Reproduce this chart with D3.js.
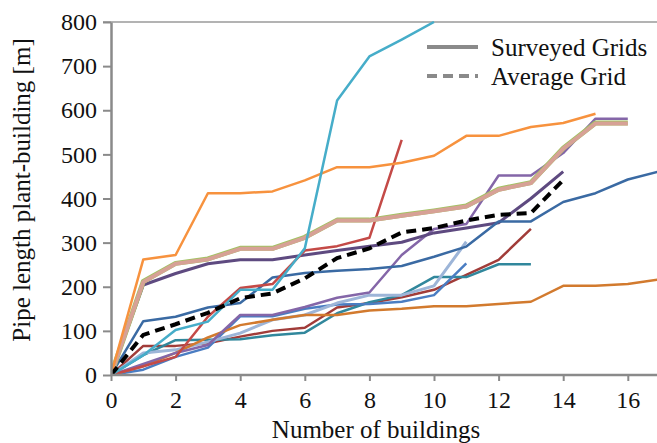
<!DOCTYPE html>
<html>
<head>
<meta charset="utf-8">
<script src="https://cdn.jsdelivr.net/npm/d3@7"></script>
<style>
  body { margin: 0; background: #fff; }
  svg text { font-family: "Liberation Serif", "Times New Roman", serif !important; fill: #111; }
</style>
</head>
<body>
<svg id="chart" width="657" height="443"></svg>
<script>
// number of buildings is the index in each list
let darkRed    = [0, 66, 66, 72, 87, 100, 107, 153, 163, 176, 193, 227, 261, 331];
let teal       = [0, 45, 79, 80, 81, 90, 96, 140, 165, 181, 222, 222, 251, 251];
let blue       = [0, 12, 41, 62, 133, 133, 150, 160, 161, 166, 181, 253];
let lightBlue  = [0, 50, 57, 75, 95, 125, 136, 163, 181, 181, 202, 302];
let brown      = [0, 20, 50, 85, 113, 125, 136, 136, 146, 150, 156, 156, 161, 166, 202, 202, 206, 217];
let purple     = [0, 25, 50, 68, 136, 136, 154, 175, 187, 272, 331, 342, 452, 452, 503, 581, 581];
let darkPurple = [0, 204, 230, 252, 261, 261, 272, 282, 292, 301, 322, 333, 345, 400, 461];
let darkBlue   = [0, 122, 132, 153, 163, 221, 231, 236, 240, 247, 268, 291, 348, 348, 392, 412, 443, 462];
let red        = [0, 20, 41, 132, 197, 206, 282, 292, 311, 533];
let green      = [0, 212, 253, 263, 287, 287, 312, 351, 351, 362, 372, 383, 421, 436, 514, 571, 571];
let tan        = [0, 211, 252, 262, 286, 286, 311, 350, 350, 361, 371, 382, 420, 435, 513, 570, 570];
let orange     = [0, 262, 272, 412, 412, 416, 441, 471, 471, 481, 497, 542, 542, 562, 571, 592];
let aqua       = [0, 45, 102, 121, 193, 193, 287, 622, 722, 760, 800];
let average    = [0, 91, 115, 141, 174, 185, 219, 265, 287, 323, 333, 350, 363, 367, 442];

let yTicks = [0, 100, 200, 300, 400, 500, 600, 700, 800];
let xTicks = [0, 2, 4, 6, 8, 10, 12, 14, 16];
let legendLabels = ['Surveyed Grids', 'Average Grid'];

// drawing order, later ones on top
let series = [
  {v: darkRed, c: '#A13C39'},
  {v: teal, c: '#31879C'},
  {v: blue, c: '#4A7DC2'},
  {v: lightBlue, c: '#9DB5D8', w: 3},
  {v: brown, c: '#D27A2E'},
  {v: purple, c: '#8466A8'},
  {v: darkPurple, c: '#5E4A80', w: 3},
  {v: darkBlue, c: '#3A6AA3'},
  {v: red, c: '#C44A47'},
  {v: green, c: '#A2C262', w: 5},
  {v: tan, c: '#D7A196', w: 4},
  {v: orange, c: '#F7923E'},
  {v: aqua, c: '#46ADC9'}
];

let plotLeft = 111, plotTop = 22, plotBottom = 375;

let svg = d3.select('#chart');

let x = d3.scaleLinear().domain([0, 17]).range([plotLeft, plotLeft + 17 * 32.3]);
let y = d3.scaleLinear().domain([0, 800]).range([plotBottom, plotTop]);

svg.append('clipPath').attr('id', 'plot')
  .append('rect').attr('x', plotLeft).attr('y', plotTop - 1)
  .attr('width', 657 - plotLeft).attr('height', plotBottom - plotTop + 1);

// top frame line
svg.append('line')
  .attr('x1', plotLeft - 8).attr('x2', 657)
  .attr('y1', plotTop).attr('y2', plotTop)
  .attr('stroke', '#9a9a9a').attr('stroke-width', 1.5);

let line = d3.line()
  .x(function (d, i) { return x(i); })
  .y(function (d) { return y(d); });

let g = svg.append('g').attr('clip-path', 'url(#plot)');

series.forEach(function (s) {
  g.append('path')
    .attr('d', line(s.v))
    .attr('fill', 'none')
    .attr('stroke', s.c)
    .attr('stroke-width', s.w || 2.5)
    .attr('stroke-linejoin', 'round');
});

g.append('path')
  .attr('d', line(average))
  .attr('fill', 'none')
  .attr('stroke', '#000')
  .attr('stroke-width', 4)
  .attr('stroke-dasharray', '10,6');

// axes
let yAxis = d3.axisLeft(y).tickValues(yTicks).tickSize(8).tickSizeOuter(0).tickPadding(6);
let xAxis = d3.axisBottom(x).tickValues(xTicks).tickSize(6).tickSizeOuter(0).tickPadding(10);

let ya = svg.append('g').attr('transform', 'translate(' + plotLeft + ',0)').call(yAxis);
let xa = svg.append('g').attr('transform', 'translate(0,' + plotBottom + ')').call(xAxis);

[ya, xa].forEach(function (a) {
  a.attr('font-family', null).attr('font-size', null);
  a.select('.domain').attr('stroke', '#8a8a8a').attr('stroke-width', 2.5);
  a.selectAll('.tick line').attr('stroke', '#8a8a8a').attr('stroke-width', 2);
  a.selectAll('.tick text')
    .style('font-family', '"Liberation Serif", serif')
    .style('font-size', '24px')
    .attr('fill', '#111');
});
xa.select('.domain').attr('d', 'M' + plotLeft + ',0H657');

// titles
svg.append('text')
  .attr('x', 376).attr('y', 438)
  .attr('text-anchor', 'middle')
  .attr('font-size', 25)
  .text('Number of buildings');

svg.append('text')
  .attr('transform', 'translate(30,190) rotate(-90)')
  .attr('text-anchor', 'middle')
  .attr('font-size', 25)
  .text('Pipe length plant-building [m]');

// legend
let legend = svg.append('g').attr('transform', 'translate(427,47)');
legendLabels.forEach(function (lab, i) {
  legend.append('line')
    .attr('x1', 0).attr('x2', 51)
    .attr('y1', i * 29).attr('y2', i * 29)
    .attr('stroke', '#8a8a8a')
    .attr('stroke-width', 4)
    .attr('stroke-dasharray', i == 1 ? '10,6' : null);
  legend.append('text')
    .attr('x', 64).attr('y', i * 29 + 9)
    .attr('font-size', 25)
    .text(lab);
});
</script>
</body>
</html>
